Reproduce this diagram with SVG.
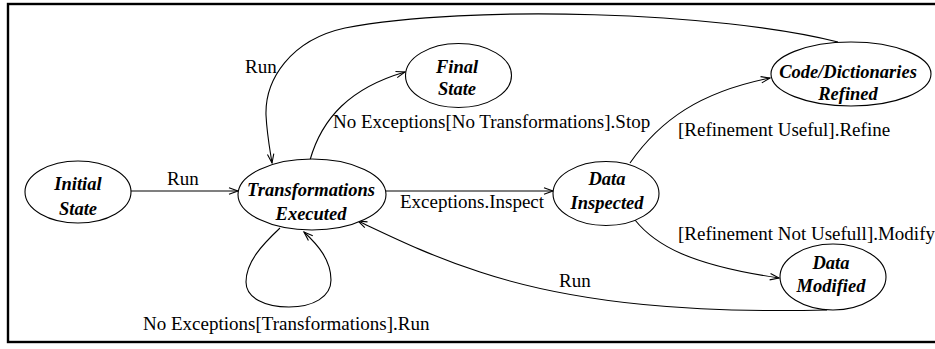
<svg xmlns="http://www.w3.org/2000/svg" width="935" height="349" viewBox="0 0 935 349">
  <style>
    .state { fill: #ffffff; stroke: #000000; stroke-width: 1.1; }
    .name { font-size: 18.5px; font-weight: bold; font-style: italic; text-anchor: middle; fill: #000000; }
    .edge { fill: none; stroke: #000000; stroke-width: 1.1; marker-end: url(#arrow); }
    .label { font-size: 19px; fill: #000000; }
  </style>
  <defs>
    <marker id="arrow" markerUnits="userSpaceOnUse" markerWidth="14" markerHeight="10" viewBox="-10 -5 12 10" refX="0" refY="0" orient="auto" overflow="visible">
      <path d="M-9,-3.2 L0,0 L-9,3.2" fill="none" stroke="#000000" stroke-width="1.1"/>
    </marker>
  </defs>

  <rect x="8" y="4" width="940" height="338" fill="#ffffff" stroke="#000000" stroke-width="2.4"/>

  <g id="connectors" font-family="Liberation Serif, Times New Roman, serif">
    <path class="edge" d="M131,191 L238,191"/>
    <path class="edge" d="M386,191 L553,191"/>
    <path class="edge" d="M310,160 C322,118 350,88 405,72"/>
    <path class="edge" d="M838,42 C720,12 470,4 345,28 C290,40 265,80 266,115 C267,135 270,150 272,163"/>
    <path class="edge" d="M630,163 C660,120 700,92 770,78"/>
    <path class="edge" d="M635,220 C655,245 690,265 779,278"/>
    <path class="edge" d="M827,310 C700,313 580,305 480,272 C430,256 390,236 358,221"/>
    <path class="edge" d="M280,228 C262,245 246,262 246,282 C246,298 265,307 289,307 C313,307 331,297 331,280 C331,260 318,245 304,232"/>
    <text class="label" x="245" y="73">Run</text>
    <text class="label" x="167" y="185">Run</text>
    <text class="label" x="333" y="128">No Exceptions[No Transformations].Stop</text>
    <text class="label" x="678" y="136">[Refinement Useful].Refine</text>
    <text class="label" x="400" y="208">Exceptions.Inspect</text>
    <text class="label" x="678" y="240">[Refinement Not Usefull].Modify</text>
    <text class="label" x="559" y="287">Run</text>
    <text class="label" x="143" y="330">No Exceptions[Transformations].Run</text>
  </g>

  <g font-family="Liberation Serif, Times New Roman, serif">
    <g id="initial-state">
      <ellipse class="state" cx="78" cy="192" rx="53" ry="31"/>
      <text class="name" x="78" y="190">Initial</text>
      <text class="name" x="78" y="215">State</text>
    </g>
    <g id="transformations-executed">
      <ellipse class="state" cx="312" cy="194.5" rx="74" ry="35.5"/>
      <text class="name" x="311" y="196">Transformations</text>
      <text class="name" x="311" y="220">Executed</text>
    </g>
    <g id="final-state">
      <ellipse class="state" cx="458.5" cy="75.5" rx="53" ry="32"/>
      <text class="name" x="457" y="73">Final</text>
      <text class="name" x="457" y="95">State</text>
    </g>
    <g id="code-dictionaries-refined">
      <ellipse class="state" cx="851" cy="74" rx="80" ry="32"/>
      <text class="name" x="848" y="78" font-size="19.5px">Code/Dictionaries</text>
      <text class="name" x="848" y="100">Refined</text>
    </g>
    <g id="data-inspected">
      <ellipse class="state" cx="606" cy="193.5" rx="53" ry="32"/>
      <text class="name" x="607" y="185">Data</text>
      <text class="name" x="607" y="209">Inspected</text>
    </g>
    <g id="data-modified">
      <ellipse class="state" cx="833" cy="277" rx="53" ry="33"/>
      <text class="name" x="831" y="269">Data</text>
      <text class="name" x="831" y="292">Modified</text>
    </g>
  </g>
</svg>
